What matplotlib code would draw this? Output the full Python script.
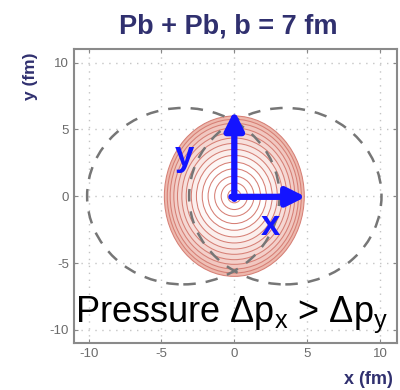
import matplotlib.pyplot as plt
from matplotlib.patches import Circle, Ellipse
import numpy as np

plt.rcParams['font.family'] = ['Liberation Sans', 'DejaVu Sans']
plt.rcParams['mathtext.fontset'] = 'custom'
plt.rcParams['mathtext.rm'] = 'Liberation Sans'
plt.rcParams['axes.unicode_minus'] = False

# nuclei (dashed outlines): centres at +-b/2, radius
nucleus_x = [-3.5, 3.5]
nucleus_r = 6.6

# pressure contours: semi-axes of the nested ellipses (fm)
contour_ax = [0.45, 0.9, 1.35, 1.8, 2.2, 2.6, 2.95, 3.3, 3.6, 3.9, 4.15, 4.4, 4.6, 4.8]
contour_ay = [0.5, 1.0, 1.5, 2.05, 2.55, 3.05, 3.5, 3.95, 4.35, 4.75, 5.1, 5.45, 5.75, 6.0]

ticks = [-10, -5, 0, 5, 10]

navy = '#30306f'
blue = '#1414ff'

fig = plt.figure(figsize=(4.0, 3.9), dpi=100)
ax = fig.add_axes([0.185, 0.12, 0.807, 0.754])

# shaded fill, outer ring pink fading to white in the middle
n = len(contour_ax)
pink = np.array([0.93, 0.72, 0.68])
for i in range(n - 1, -1, -1):
    t = max(0.0, (i - 4) / (n - 5))
    col = 1 - (1 - pink) * t
    ax.add_patch(Ellipse((0, 0), 2 * contour_ax[i], 2 * contour_ay[i],
                         facecolor=col, edgecolor='none', zorder=1))
for a, b in zip(contour_ax, contour_ay):
    ax.add_patch(Ellipse((0, 0), 2 * a, 2 * b, facecolor='none',
                         edgecolor='#d67f75', lw=0.75, zorder=2))

for cx in nucleus_x:
    ax.add_patch(Circle((cx, 0), nucleus_r, facecolor='none', edgecolor='#767676',
                        lw=1.8, ls=(0, (5, 4)), zorder=3))

# axis arrows
arrow = dict(arrowstyle='-|>', color=blue, lw=4.5, mutation_scale=28,
             shrinkA=0, shrinkB=0)
ax.annotate('', xy=(0, 6.4), xytext=(0, -0.2), arrowprops=arrow, zorder=5)
ax.annotate('', xy=(4.9, -0.05), xytext=(-0.2, -0.05), arrowprops=arrow, zorder=5)
ax.text(-3.4, 3.0, 'y', color=blue, fontsize=25, fontweight='bold',
        ha='center', va='center', zorder=6)
ax.text(2.5, -2.2, 'x', color=blue, fontsize=25, fontweight='bold',
        ha='center', va='center', zorder=6)

ax.text(-10.95, -9.45, r'Pressure Δp$_\mathregular{x}$ > Δp$_\mathregular{y}$',
        fontsize=26, color='black', va='baseline', ha='left', zorder=6)

ax.set_xlim(-11, 11.15)
ax.set_ylim(-11, 11)
ax.set_xticks(ticks)
ax.set_yticks(ticks)
ax.grid(True, color='#c4c4c4', ls=(0, (1, 4)), lw=1.0)
ax.set_axisbelow(True)
ax.tick_params(direction='in', length=3, color='#888888', labelcolor='#6a6a6a',
               labelsize=9.5, top=True, right=True)
for s in ax.spines.values():
    s.set_color('#8a8a8a')
    s.set_linewidth(1.5)

fig.text(0.57, 0.932, 'Pb + Pb, b = 7 fm', fontsize=19.5, fontweight='bold',
         color=navy, ha='center', va='center')
fig.text(0.075, 0.805, 'y (fm)', fontsize=12.5, fontweight='bold', color=navy,
         rotation=90, ha='center', va='center')
fig.text(0.86, 0.028, 'x (fm)', fontsize=13, fontweight='bold', color=navy,
         ha='left', va='center')

fig.savefig('out.png', dpi=100)
